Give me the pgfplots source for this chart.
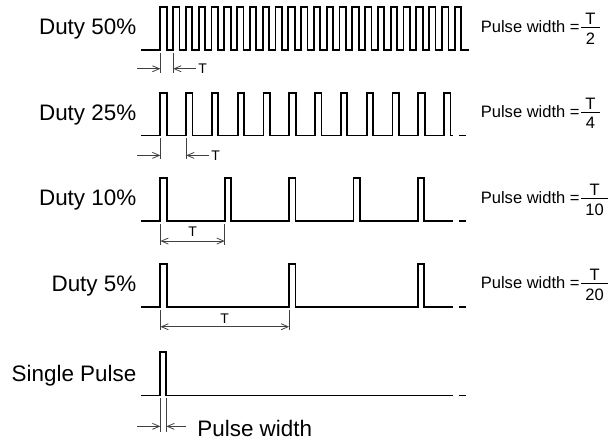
\documentclass[border=0pt]{standalone}
\usepackage{fontspec}
\setmainfont{Liberation Sans}
\usepackage{pgfplots}
\pgfplotsset{compat=1.18}
\usetikzlibrary{arrows.meta}
\newcommand{\fr}[2]{\setbox1=\hbox{#1}\setbox2=\hbox{#2}%
  \dimen0=\wd1 \ifdim\wd2>\dimen0 \dimen0=\wd2\fi \advance\dimen0 by 8.5bp
  \kern1.5bp\rlap{\raisebox{8bp}{\hbox to\dimen0{\hss\copy1\hss}}}%
  \rlap{\rule[4.55bp]{\dimen0}{0.9bp}}%
  \raisebox{-12bp}{\hbox to\dimen0{\hss\copy2\hss}}}
\begin{document}
\begin{tikzpicture}[
  tk/.style={black!75, line width=0.8bp},
  arr/.style={black!75, line width=0.8bp, -{Straight Barb[length=7bp,width=6bp]}},
  darr/.style={black!75, line width=0.8bp, {Straight Barb[length=7bp,width=6bp]}-{Straight Barb[length=7bp,width=6bp]}},
  lab/.style={anchor=base east, inner sep=0pt, font=\fontsize{22.5bp}{27bp}\selectfont},
  rlab/.style={anchor=base west, inner sep=0pt, font=\fontsize{16.6bp}{20bp}\selectfont},
  tl/.style={inner sep=0pt, font=\fontsize{14bp}{17bp}\selectfont},
]
\begin{axis}[width=608bp, height=447bp, scale only axis,
  xmin=0, xmax=608, ymin=0, ymax=447, y dir=reverse,
  hide axis, clip=false]
\path (axis cs:0,0) rectangle (axis cs:608,447);
% Duty 50%
\addplot[const plot, black, line width=1.8bp, line join=miter, mark=none] coordinates {
(142,50) (161,7) (167.43,50) (173.85,7) (180.28,50) (186.70,7) (193.13,50) (199.55,7) (205.98,50) (212.40,7) (218.83,50) (225.25,7) (231.68,50) (238.10,7) (244.53,50) (250.95,7) (257.38,50) (263.80,7) (270.23,50) (276.65,7) (283.08,50) (289.50,7) (295.93,50) (302.35,7) (308.78,50) (315.20,7) (321.63,50) (328.05,7) (334.48,50) (340.90,7) (347.33,50) (353.75,7) (360.18,50) (366.60,7) (373.03,50) (379.45,7) (385.88,50) (392.30,7) (398.73,50) (405.15,7) (411.58,50) (418.00,7) (424.43,50) (430.85,7) (437.28,50) (443.70,7) (450.13,50) (456.55,7) (462.98,50) (471,50)};
% Duty 25%
\addplot[const plot, black, line width=1.8bp, line join=miter, mark=none] coordinates {
(142,136) (161,93) (167.43,136) (186.90,93) (193.33,136) (212.80,93) (219.23,136) (238.70,93) (245.13,136) (264.60,93) (271.03,136) (290.50,93) (296.93,136) (316.40,93) (322.83,136) (342.30,93) (348.73,136) (368.20,93) (374.63,136) (394.10,93) (400.53,136) (420.00,93) (426.43,136) (445.90,93) (452.33,136) (455,136)};
\addplot[black, line width=1.8bp, mark=none] coordinates {(461,136) (468,136)};
% Duty 10%
\addplot[const plot, black, line width=1.8bp, line join=miter, mark=none] coordinates {
(142,222) (161,179) (167.5,222) (225.6,179) (232.1,222) (290.2,179) (296.7,222) (354.8,179) (361.3,222) (419.4,179) (425.9,222) (455,222)};
\addplot[black, line width=1.8bp, mark=none] coordinates {(461,222) (468,222)};
% Duty 5%
\addplot[const plot, black, line width=1.8bp, line join=miter, mark=none] coordinates {
(142,308) (161,265) (167.5,308) (290.2,265) (296.7,308) (419.4,265) (425.9,308) (455,308)};
\addplot[black, line width=1.8bp, mark=none] coordinates {(461,308) (468,308)};
% Single pulse
\addplot[const plot, black, line width=1.8bp, line join=miter, mark=none] coordinates {
(142,397) (161,353) (167,397) (455,397)};
\addplot[black, line width=1.8bp, mark=none] coordinates {(461,397) (468,397)};

% labels
\node[lab] at (axis cs:137,34.4) {Duty 50\%};
\node[lab] at (axis cs:137,120.7) {Duty 25\%};
\node[lab] at (axis cs:137,206.7) {Duty 10\%};
\node[lab] at (axis cs:137,292.7) {Duty 5\%};
\node[lab] at (axis cs:137,382.7) {Single Pulse};

\node[rlab] at (axis cs:482.5,32.5) {Pulse width =\fr{T}{2}};
\node[rlab] at (axis cs:482.5,117.5) {Pulse width =\fr{T}{4}};
\node[rlab] at (axis cs:482.5,204) {Pulse width =\fr{T}{10}};
\node[rlab] at (axis cs:482.5,290) {Pulse width =\fr{T}{20}};

% 50% annotation
\draw[tk] (axis cs:161,53) -- (axis cs:161,73);
\draw[tk] (axis cs:173.85,53) -- (axis cs:173.85,73);
\draw[arr] (axis cs:138,69) -- (axis cs:161,69);
\draw[arr] (axis cs:197,69) -- (axis cs:173.85,69);
\node[tl, anchor=west] at (axis cs:199,69) {T};
% 25% annotation
\draw[tk] (axis cs:161,139) -- (axis cs:161,160);
\draw[tk] (axis cs:186.9,139) -- (axis cs:186.9,160);
\draw[arr] (axis cs:138,156) -- (axis cs:161,156);
\draw[arr] (axis cs:210,156) -- (axis cs:186.9,156);
\node[tl, anchor=west] at (axis cs:212,156) {T};
% 10% annotation
\draw[tk] (axis cs:161,225) -- (axis cs:161,246);
\draw[tk] (axis cs:225.6,225) -- (axis cs:225.6,246);
\draw[darr] (axis cs:161,242) -- (axis cs:225.6,242);
\node[tl] at (axis cs:193.3,233) {T};
% 5% annotation
\draw[tk] (axis cs:161,311) -- (axis cs:161,331);
\draw[tk] (axis cs:290.2,311) -- (axis cs:290.2,331);
\draw[darr] (axis cs:161,328) -- (axis cs:290.2,328);
\node[tl] at (axis cs:225.6,320) {T};
% single annotation
\draw[tk] (axis cs:161,400) -- (axis cs:161,434);
\draw[tk] (axis cs:167,400) -- (axis cs:167,434);
\draw[arr] (axis cs:138,428) -- (axis cs:161,428);
\draw[arr] (axis cs:187,428) -- (axis cs:167,428);
\node[lab, anchor=base west] at (axis cs:198,438.3) {Pulse width};
\end{axis}
\end{tikzpicture}
\end{document}
